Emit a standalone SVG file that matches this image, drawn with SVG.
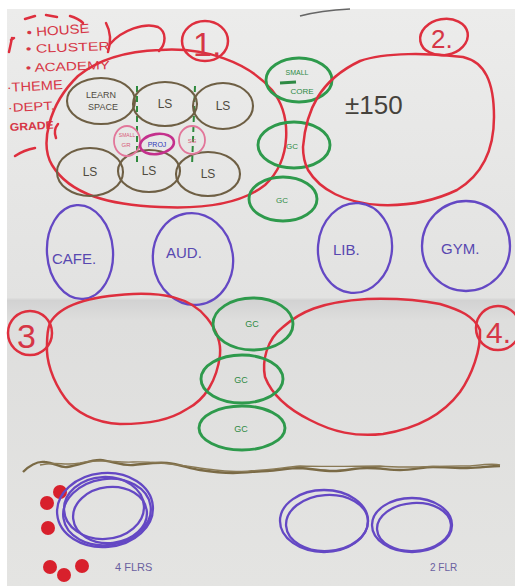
<svg xmlns="http://www.w3.org/2000/svg" width="515" height="586" viewBox="0 0 515 586">
<defs>
<linearGradient id="paper" x1="0" y1="0" x2="0" y2="1">
<stop offset="0" stop-color="#ececeb"/>
<stop offset="0.5" stop-color="#e2e2e1"/>
<stop offset="0.505" stop-color="#d2d2d2"/>
<stop offset="0.54" stop-color="#dededd"/>
<stop offset="1" stop-color="#e4e4e2"/>
</linearGradient>
<style>
.red{fill:none;stroke:#de2f3e;stroke-width:2.5;stroke-linecap:round;stroke-linejoin:round}
.brown{fill:none;stroke:#6e5f44;stroke-width:2.1}
.green{fill:none;stroke:#2e9a4c;stroke-width:2.9}
.purple{fill:none;stroke:#6448c4;stroke-width:2.3}
.pink{fill:none;stroke:#e2769a;stroke-width:1.8}
.dash{fill:none;stroke:#2f8a3e;stroke-width:2;stroke-dasharray:6 4}
.tr{font-family:"Liberation Sans",Arial,sans-serif;fill:#d63646}
.tb{font-family:"Liberation Sans",Arial,sans-serif;fill:#4f4a40}
.tg{font-family:"Liberation Sans",Arial,sans-serif;fill:#2e8a44}
.tp{font-family:"Liberation Sans",Arial,sans-serif;fill:#5848b0}
.dot{fill:#d8202c}
</style>
</defs>
<rect width="515" height="586" fill="#ffffff"/>
<rect x="7" y="9" width="508" height="577" fill="url(#paper)"/>
<path d="M300,16 C315,12 330,10 350,9" fill="none" stroke="#666" stroke-width="1.5"/>

<g id="legend">
<text class="tr" x="27" y="37" font-size="13" textLength="63" lengthAdjust="spacingAndGlyphs" transform="rotate(-4 27 37)">• HOUSE</text>
<text class="tr" x="26" y="53" font-size="12" textLength="84" lengthAdjust="spacingAndGlyphs" transform="rotate(-2 26 53)">• CLUSTER</text>
<text class="tr" x="26" y="72" font-size="12" textLength="84" lengthAdjust="spacingAndGlyphs" transform="rotate(-2 26 72)">• ACADEMY</text>
<text class="tr" x="7" y="92" font-size="13" textLength="56" lengthAdjust="spacingAndGlyphs" transform="rotate(-3 7 92)">·THEME</text>
<text class="tr" x="8" y="112" font-size="12" textLength="47" lengthAdjust="spacingAndGlyphs" transform="rotate(-3 8 112)">·DEPT.</text>
<text class="tr" x="10" y="131" font-size="11" font-weight="bold" textLength="44" lengthAdjust="spacingAndGlyphs" transform="rotate(-3 10 131)">GRADE</text>
<path class="red" d="M25,19 L35,16 M46,15 L57,17 M70,16 Q78,18 83,23 M11,40 L14,38 M12,38 L9,52 M106,23 Q113,36 108,52 M15,156 Q24,150 35,148 M58,124 Q53,130 56,138" stroke-width="2"/>
</g>

<g id="connectors">
<path class="red" d="M110,44 C122,30 145,22 158,27 C167,32 166,44 159,51"/>
<path class="dash" d="M137,86 L137,166"/>
<path class="dash" d="M195,86 L192,166"/>
</g>

<g id="zone1">
<path class="red" d="M160,50 C205,47 248,62 272,90 C292,115 292,160 265,185 C240,205 200,209 160,207 C110,205 70,195 52,165 C40,145 48,105 78,76 C100,58 130,51 160,50 Z"/>
<ellipse class="red" cx="205" cy="41" rx="23" ry="20"/>
<text class="tr" x="193" y="56" font-size="34">1.</text>
</g>
<g id="ls1"><ellipse class="brown" cx="101" cy="101" rx="34" ry="23"/>
<text class="tb" x="101" y="98" font-size="9" text-anchor="middle">LEARN</text>
<text class="tb" x="103" y="110" font-size="9" text-anchor="middle">SPACE</text></g>
<g id="ls2"><ellipse class="brown" cx="165" cy="104" rx="32" ry="22"/>
<text class="tb" x="165" y="108" font-size="12" text-anchor="middle">LS</text></g>
<g id="ls3"><ellipse class="brown" cx="223" cy="106" rx="30" ry="23"/>
<text class="tb" x="223" y="110" font-size="12" text-anchor="middle">LS</text></g>
<g id="ls4"><ellipse class="brown" cx="90" cy="172" rx="33" ry="24"/>
<text class="tb" x="90" y="176" font-size="12" text-anchor="middle">LS</text></g>
<g id="ls5"><ellipse class="brown" cx="149" cy="171" rx="31" ry="21"/>
<text class="tb" x="149" y="175" font-size="12" text-anchor="middle">LS</text></g>
<g id="ls6"><ellipse class="brown" cx="208" cy="174" rx="32" ry="22"/>
<text class="tb" x="208" y="178" font-size="12" text-anchor="middle">LS</text></g>
<g id="sg1"><ellipse class="pink" cx="127" cy="141" rx="13" ry="15"/>
<text x="127" y="137" font-size="5" text-anchor="middle" font-family="Liberation Sans, sans-serif" fill="#d85a7a">SMALL</text>
<text x="126" y="147" font-size="6" text-anchor="middle" font-family="Liberation Sans, sans-serif" fill="#d85a7a">GR</text></g>
<g id="sg2"><ellipse class="pink" cx="192" cy="140" rx="13" ry="14"/>
<text x="192" y="143" font-size="6" text-anchor="middle" font-family="Liberation Sans, sans-serif" fill="#d85a7a">SG</text></g>
<g id="proj"><ellipse cx="157" cy="144" rx="17" ry="10" fill="none" stroke="#c4308c" stroke-width="2.6" transform="rotate(-8 157 144)"/>
<text x="157" y="147" font-size="7" text-anchor="middle" font-family="Liberation Sans, sans-serif" fill="#3038b8">PROJ</text></g>

<g id="core"><ellipse class="green" cx="299" cy="80" rx="33" ry="22"/>
<text class="tg" x="297" y="75" font-size="7" text-anchor="middle">SMALL</text>
<path d="M280,83 L296,82" stroke="#2e8a44" stroke-width="3" fill="none"/>
<text class="tg" x="302" y="94" font-size="8" text-anchor="middle">CORE</text></g>
<g id="gc1"><ellipse class="green" cx="294" cy="145" rx="36" ry="23"/>
<text class="tg" x="292" y="149" font-size="8" text-anchor="middle">GC</text></g>
<g id="gc2"><ellipse class="green" cx="283" cy="199" rx="34" ry="22"/>
<text class="tg" x="282" y="203" font-size="8" text-anchor="middle">GC</text></g>

<g id="zone2">
<path class="red" d="M303,147 C306,110 320,80 360,61 C385,52 430,53 463,57 C485,62 494,82 494,117 C494,150 482,175 457,190 C430,203 405,206 380,205 C345,203 320,190 308,170 C304,162 303,155 303,147 Z"/>
<ellipse class="red" cx="444" cy="37" rx="24" ry="18" transform="rotate(-10 444 37)"/>
<text class="tr" x="431" y="48" font-size="26">2.</text>
<text x="345" y="114" font-size="26" font-family="Liberation Sans, sans-serif" fill="#45423c">±150</text>
</g>

<g id="cafe"><ellipse class="purple" cx="80" cy="252" rx="33" ry="47" transform="rotate(-4 80 252)"/>
<text class="tp" x="52" y="264" font-size="15">CAFE.</text></g>
<g id="aud"><ellipse class="purple" cx="193" cy="259" rx="40" ry="46" transform="rotate(-8 193 259)"/>
<text class="tp" x="166" y="258" font-size="15">AUD.</text></g>
<g id="lib"><ellipse class="purple" cx="355" cy="248" rx="37" ry="45" transform="rotate(5 355 248)"/>
<text class="tp" x="333" y="255" font-size="15">LIB.</text></g>
<g id="gym"><ellipse class="purple" cx="466" cy="246" rx="44" ry="45"/>
<text class="tp" x="441" y="254" font-size="15">GYM.</text></g>

<g id="zone3">
<path class="red" d="M50,323 C60,305 90,296 133,294 C160,293 190,296 207,318 C218,332 221,345 220,355 C217,380 205,400 187,409 C170,420 150,424 120,424 C95,423 75,412 65,398 C52,380 46,360 47,345 C47,335 48,328 50,323 Z"/>
<ellipse class="red" cx="30" cy="333" rx="22" ry="22"/>
<text class="tr" x="17" y="348" font-size="34">3</text>
</g>
<g id="zone4">
<path class="red" d="M283,327 C300,312 320,302 367,299 C400,298 420,300 440,304 C460,310 474,316 480,330 C481,350 472,375 460,392 C445,412 420,428 383,434 C355,437 333,432 310,420 C290,410 272,395 265,377 C262,362 266,340 283,327 Z"/>
<ellipse class="red" cx="498" cy="328" rx="22" ry="22"/>
<text class="tr" x="486" y="343" font-size="30">4.</text>
</g>
<g id="gc3"><ellipse class="green" cx="253" cy="324" rx="40" ry="26"/>
<text class="tg" x="252" y="327" font-size="9" text-anchor="middle">GC</text></g>
<g id="gc4"><ellipse class="green" cx="242" cy="379" rx="41" ry="24"/>
<text class="tg" x="241" y="383" font-size="9" text-anchor="middle">GC</text></g>
<g id="gc5"><ellipse class="green" cx="242" cy="428" rx="43" ry="22"/>
<text class="tg" x="241" y="432" font-size="9" text-anchor="middle">GC</text></g>

<g id="ground">
<path d="M23,472 C30,465 38,461 45,462 C55,463 60,468 67,467 C80,465 90,460 100,460 C112,461 122,466 133,465 C145,464 155,462 167,463 C180,464 190,469 200,470 C213,472 222,473 233,473 C247,473 257,471 267,471 C280,470 290,468 300,468 C313,469 323,471 333,471 C345,471 355,468 367,468 C380,468 390,470 400,470 C413,470 423,467 433,467 C445,467 455,468 467,468 C480,468 490,466 500,466" fill="none" stroke="#7a6a45" stroke-width="2.4"/>
<path d="M40,465 C55,461 65,466 80,463 C100,458 115,463 133,462 C160,461 190,467 215,470 C240,474 270,469 300,466 C330,467 360,466 380,466 C410,469 440,465 470,466 C480,465 492,463 500,465" fill="none" stroke="#8a7a55" stroke-width="1.4"/>
</g>

<g id="dots">
<circle class="dot" cx="60" cy="492" r="7"/>
<circle class="dot" cx="47" cy="503" r="7"/>
<circle class="dot" cx="48" cy="528" r="7"/>
<circle class="dot" cx="50" cy="567" r="7"/>
<circle class="dot" cx="64" cy="575" r="7"/>
<circle class="dot" cx="82" cy="566" r="7"/>
</g>
<g id="block4">
<ellipse class="purple" cx="105" cy="510" rx="48" ry="37" transform="rotate(-5 105 510)"/>
<ellipse class="purple" cx="107" cy="512" rx="44" ry="33" transform="rotate(-8 107 512)"/>
<ellipse class="purple" cx="104" cy="508" rx="40" ry="31" transform="rotate(-3 104 508)"/>
<ellipse class="purple" cx="110" cy="515" rx="37" ry="28" transform="rotate(-6 110 515)"/>
<text x="115" y="571" font-size="11" font-family="Liberation Sans, sans-serif" fill="#6a60a0">4 FLRS</text>
</g>
<g id="block2a">
<ellipse class="purple" cx="324" cy="521" rx="44" ry="31"/>
<ellipse class="purple" cx="327" cy="523" rx="41" ry="28" transform="rotate(-4 327 523)"/>
</g>
<g id="block2b">
<ellipse class="purple" cx="412" cy="525" rx="40" ry="27"/>
<ellipse class="purple" cx="414" cy="527" rx="37" ry="24" transform="rotate(-4 414 527)"/>
<text x="430" y="571" font-size="10" font-family="Liberation Sans, sans-serif" fill="#6a60a0">2 FLR</text>
</g>
</svg>
